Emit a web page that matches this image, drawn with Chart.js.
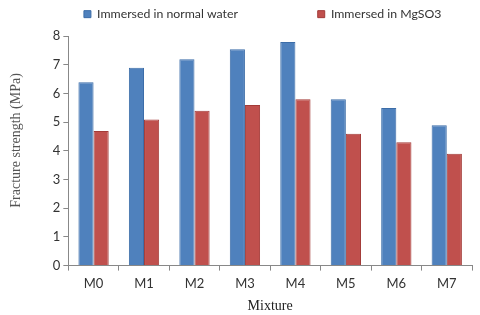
<!DOCTYPE html>
<html>
<head>
<meta charset="utf-8">
<script src="https://cdn.jsdelivr.net/npm/chart.js@4.4.0/dist/chart.umd.min.js"></script>
<style>
  html, body { margin: 0; padding: 0; background: #fff; }
  #wrap { width: 480px; height: 315px; }
</style>
</head>
<body>
<div id="wrap"><canvas id="chart" width="480" height="315"></canvas></div>
<script>
// fracture strength per mixture
var mixtures = ['M0', 'M1', 'M2', 'M3', 'M4', 'M5', 'M6', 'M7'];
var normalWater = [6.4, 6.9, 7.2, 7.55, 7.8, 5.8, 5.5, 4.9];
var mgso3 = [4.7, 5.1, 5.4, 5.6, 5.8, 4.6, 4.3, 3.9];
var yTicks = [0, 1, 2, 3, 4, 5, 6, 7, 8];

var ctx = document.getElementById('chart').getContext('2d');

// leave a bit more room under the legend
var legendGap = {
  id: 'legendGap',
  beforeInit: function (chart) {
    var fit = chart.legend.fit;
    chart.legend.fit = function () {
      fit.call(this);
      this.height += 6;
    };
  }
};

new Chart(ctx, {
  type: 'bar',
  data: {
    labels: mixtures,
    datasets: [
      {
        label: 'Immersed in normal water',
        data: normalWater,
        backgroundColor: '#4F81BD',
        borderColor: '#3C6DA8',
        borderWidth: 1
      },
      {
        label: 'Immersed in MgSO3',
        data: mgso3,
        backgroundColor: '#C0504D',
        borderColor: '#A33B38',
        borderWidth: 1
      }
    ]
  },
  plugins: [legendGap],
  options: {
    responsive: false,
    animation: false,
    layout: { padding: { left: 8, right: 8, top: 2, bottom: 0 } },
    datasets: {
      bar: { categoryPercentage: 0.6, barPercentage: 1.0 }
    },
    plugins: {
      tooltip: { enabled: false },
      legend: {
        position: 'top',
        align: 'end',
        labels: {
          boxWidth: 7,
          boxHeight: 7,
          padding: 6,
          color: '#333',
          font: { family: 'Lato', size: 12.3 },
          // excel-ish spacing: wide gap between entries, legend sits right of centre
          generateLabels: function (chart) {
            var items = Chart.defaults.plugins.legend.labels.generateLabels(chart);
            if (items.length > 1) {
              items[0].text += '\u2003\u2003\u2003\u2003\u2003\u2003\u2003\u2003';
              items[1].text += '\u2003\u2003\u2002';
            }
            return items;
          }
        }
      }
    },
    scales: {
      x: {
        grid: {
          offset: true,
          drawOnChartArea: false,
          tickLength: 5,
          color: '#888'
        },
        border: { color: '#888', width: 1 },
        ticks: {
          color: '#333',
          padding: 5,
          font: { family: 'Lato', size: 13 }
        },
        title: {
          display: true,
          text: 'Mixture',
          color: '#222',
          padding: { top: 2, bottom: 0 },
          font: { family: 'Liberation Serif', size: 14 }
        }
      },
      y: {
        min: 0,
        max: 8,
        afterBuildTicks: function (axis) {
          axis.ticks = yTicks.map(function (v) { return { value: v }; });
        },
        grid: {
          drawOnChartArea: false,
          tickLength: 5,
          color: '#888'
        },
        border: { color: '#888', width: 1 },
        ticks: {
          color: '#333',
          padding: 3,
          font: { family: 'Lato', size: 13 }
        },
        title: {
          display: true,
          text: '\u2002\u2002\u2002Fracture strength (MPa)',
          color: '#555',
          padding: { top: 0, bottom: 25 },
          font: { family: 'Liberation Serif', size: 14 }
        }
      }
    }
  }
});
</script>
</body>
</html>
